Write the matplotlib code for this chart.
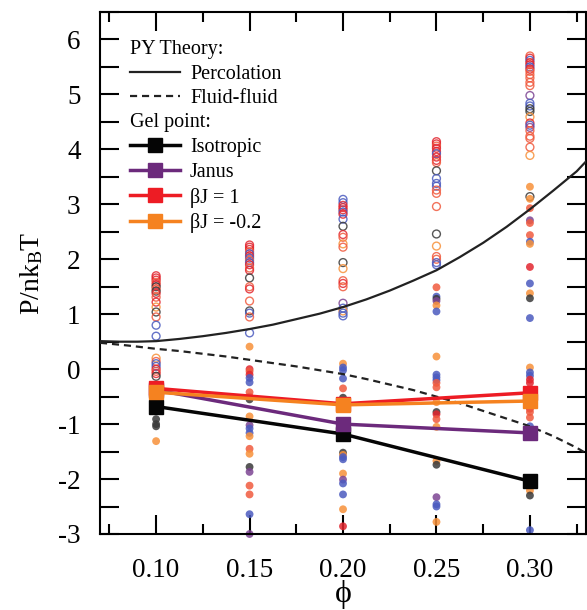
import numpy as np
import matplotlib
matplotlib.use("Agg")
import matplotlib.pyplot as plt
import matplotlib.ticker as mticker
from matplotlib.lines import Line2D

plt.rcParams['font.family'] = ['Liberation Serif', 'DejaVu Serif']
plt.rcParams['mathtext.fontset'] = 'custom'
plt.rcParams['mathtext.rm'] = 'Liberation Serif'
plt.rcParams['mathtext.it'] = 'Liberation Serif:italic'
plt.rcParams['axes.unicode_minus'] = False

# ------------------------------------------------------------
# data
# ------------------------------------------------------------
phi_py = [0.07, 0.08, 0.09, 0.10, 0.1125, 0.125, 0.1375, 0.15, 0.1625, 0.175, 0.1875,
          0.20, 0.2125, 0.225, 0.2375, 0.25, 0.2625, 0.275, 0.2875, 0.30, 0.3125, 0.325, 0.33]
percolation = [0.51, 0.50, 0.50, 0.51, 0.55, 0.60, 0.66, 0.73, 0.81, 0.91, 1.01,
               1.13, 1.27, 1.43, 1.61, 1.80, 2.04, 2.30, 2.59, 2.91, 3.25, 3.60, 3.78]

phi_ff = [0.07, 0.085, 0.10, 0.1125, 0.125, 0.1375, 0.15, 0.1625, 0.175, 0.1875, 0.20,
          0.2125, 0.225, 0.2375, 0.25, 0.2625, 0.275, 0.2875, 0.30, 0.3125, 0.325, 0.33]
fluid_fluid = [0.48, 0.43, 0.37, 0.33, 0.28, 0.23, 0.17, 0.11, 0.05, -0.02, -0.09,
               -0.18, -0.28, -0.38, -0.50, -0.62, -0.76, -0.90, -1.04, -1.22, -1.43, -1.53]

phi_gel = [0.10, 0.20, 0.30]
gel_isotropic = [-0.68, -1.18, -2.04]
gel_janus = [-0.38, -1.00, -1.16]
gel_bj1 = [-0.35, -0.63, -0.43]
gel_bjm02 = [-0.42, -0.65, -0.58]

# simulation points: (value, colour code); open = above percolation, filled = below
open_010 = [(1.70, 'R'), (1.66, 'R'), (1.62, 'R'), (1.58, 'T'), (1.54, 'R'), (1.50, 'K'),
            (1.46, 'T'), (1.42, 'K'), (1.38, 'R'), (1.31, 'T'), (1.22, 'R'), (1.13, 'O'),
            (1.04, 'K'), (0.95, 'T'), (0.80, 'B'), (0.60, 'B'),
            (0.20, 'O'), (0.14, 'T'), (0.10, 'B'), (0.05, 'B'), (0.00, 'R'), (-0.04, 'T'),
            (-0.08, 'R'), (-0.13, 'K')]
fill_010 = [(-0.76, 'O'), (-0.91, 'K'), (-1.00, 'K'), (-1.04, 'K'), (-1.31, 'O')]

open_015 = [(2.26, 'R'), (2.22, 'R'), (2.18, 'R'), (2.14, 'T'), (2.10, 'B'), (2.06, 'R'),
            (2.02, 'B'), (1.98, 'T'), (1.94, 'B'), (1.90, 'R'), (1.84, 'T'), (1.80, 'R'),
            (1.66, 'K'), (1.50, 'T'), (1.46, 'R'), (1.24, 'T'), (1.06, 'K'), (1.02, 'B'),
            (0.95, 'T'), (0.66, 'B')]
fill_015 = [(0.41, 'O'), (0.00, 'R'), (-0.04, 'T'), (-0.10, 'R'), (-0.16, 'B'), (-0.24, 'B'),
            (-0.42, 'T'), (-0.50, 'T'), (-0.55, 'K'), (-0.86, 'O'), (-1.02, 'P'), (-1.08, 'B'),
            (-1.16, 'B'), (-1.22, 'O'), (-1.45, 'T'), (-1.54, 'O'), (-1.78, 'K'), (-1.87, 'P'),
            (-2.12, 'T'), (-2.28, 'T'), (-2.64, 'B'), (-3.00, 'P')]

open_020 = [(3.09, 'B'), (3.03, 'B'), (2.98, 'R'), (2.94, 'R'), (2.90, 'R'), (2.86, 'B'),
            (2.82, 'R'), (2.73, 'B'), (2.60, 'K'), (2.45, 'R'), (2.40, 'T'), (2.28, 'O'),
            (2.22, 'T'), (1.94, 'K'), (1.83, 'O'), (1.61, 'T'), (1.56, 'R'), (1.50, 'T'),
            (1.20, 'P'), (1.11, 'B'), (1.06, 'O'), (1.02, 'B'), (0.97, 'B')]
fill_020 = [(0.10, 'O'), (0.03, 'B'), (-0.02, 'B'), (-0.17, 'B'), (-0.35, 'T'), (-0.52, 'K'),
            (-1.52, 'K'), (-1.56, 'O'), (-1.60, 'B'), (-1.64, 'B'), (-1.90, 'O'), (-2.01, 'P'),
            (-2.08, 'B'), (-2.28, 'B'), (-2.55, 'O'), (-2.86, 'R')]

open_025 = [(4.14, 'R'), (4.10, 'R'), (4.06, 'T'), (4.02, 'R'), (3.96, 'R'), (3.92, 'B'),
            (3.86, 'R'), (3.80, 'R'), (3.76, 'T'), (3.61, 'K'), (3.47, 'B'), (3.38, 'B'),
            (3.33, 'B'), (3.26, 'T'), (3.20, 'T'), (2.96, 'T'), (2.46, 'K'), (2.24, 'O'),
            (2.05, 'T'), (2.00, 'T'), (1.94, 'B'), (1.90, 'B')]
fill_025 = [(1.49, 'T'), (1.32, 'B'), (1.28, 'K'), (1.24, 'P'), (1.16, 'O'), (1.05, 'B'),
            (0.23, 'O'), (-0.10, 'B'), (-0.15, 'B'), (-0.20, 'B'), (-0.25, 'T'), (-0.33, 'T'),
            (-0.60, 'O'), (-0.78, 'K'), (-0.82, 'R'), (-0.91, 'T'), (-1.05, 'O'), (-1.67, 'O'),
            (-1.74, 'K'), (-2.33, 'P'), (-2.46, 'B'), (-2.50, 'B'), (-2.78, 'O')]

open_030 = [(5.70, 'T'), (5.66, 'R'), (5.62, 'B'), (5.58, 'R'), (5.54, 'R'), (5.50, 'B'),
            (5.46, 'R'), (5.42, 'T'), (5.36, 'T'), (5.30, 'T'), (5.22, 'T'), (5.16, 'T'),
            (4.98, 'P'), (4.84, 'B'), (4.79, 'B'), (4.74, 'K'), (4.69, 'K'), (4.59, 'O'),
            (4.48, 'R'), (4.44, 'B'), (4.40, 'P'), (4.34, 'T'), (4.24, 'T'), (4.20, 'T'),
            (4.04, 'T'), (3.89, 'O'), (3.14, 'K')]
fill_030 = [(3.32, 'O'), (3.10, 'O'), (2.93, 'T'), (2.71, 'P'), (2.66, 'T'), (2.44, 'T'),
            (2.32, 'B'), (2.28, 'O'), (1.86, 'R'), (1.56, 'B'), (1.38, 'O'), (1.29, 'K'),
            (0.93, 'B'), (0.03, 'O'), (-0.06, 'B'), (-0.12, 'B'), (-0.19, 'R'), (-0.25, 'R'),
            (-0.72, 'R'), (-0.78, 'T'), (-0.88, 'T'), (-1.04, 'B'), (-2.21, 'O'), (-2.30, 'K'),
            (-2.93, 'B')]

columns = [(0.10, open_010, fill_010), (0.15, open_015, fill_015), (0.20, open_020, fill_020),
           (0.25, open_025, fill_025), (0.30, open_030, fill_030)]

PT_COL = {'K': '#3a3a3a', 'B': '#4b5bbf', 'P': '#7d4593',
          'R': '#e2262f', 'T': '#f05a3e', 'O': '#f7913a'}

# ------------------------------------------------------------
fig = plt.figure(figsize=(5.87, 6.10), dpi=100)
ax = fig.add_axes([0.1704, 0.1246, 0.8279, 0.8557])

for phi, op, fl in columns:
    ov = [v for v, c in op]
    oc = [PT_COL[c] for v, c in op]
    fv = [v for v, c in fl]
    fc = [PT_COL[c] for v, c in fl]
    ax.scatter([phi] * len(ov), ov, s=32, facecolors='none', edgecolors=oc,
               linewidths=1.0, alpha=0.85, zorder=2, clip_on=False)
    ax.scatter([phi] * len(fv), fv, s=32, c=fc, edgecolors='none',
               alpha=0.85, zorder=2, clip_on=False)

ax.plot(phi_py, percolation, color='#222222', lw=1.6, zorder=3)
ax.plot(phi_ff, fluid_fluid, color='#222222', lw=1.6, dashes=(3.2, 2.2), zorder=3)

gel_styles = [
    (gel_isotropic, '#050505', 'Isotropic'),
    (gel_janus, '#6c2a7c', 'Janus'),
    (gel_bj1, '#ed1c24', 'βJ = 1'),
    (gel_bjm02, '#f58220', 'βJ = -0.2'),
]
gel_handles = []
for vals, col, lab in gel_styles:
    h, = ax.plot(phi_gel, vals, color=col, lw=2.5, marker='s', ms=9.5,
                 mec=col, mfc=col, zorder=4, label=lab)
    gel_handles.append(h)

ax.set_xlim(0.07, 0.33)
ax.set_ylim(-3, 6.5)

ax.xaxis.set_major_locator(mticker.MultipleLocator(0.05))
ax.xaxis.set_minor_locator(mticker.MultipleLocator(0.025))
ax.xaxis.set_major_formatter(mticker.FormatStrFormatter('%.2f'))
ax.yaxis.set_major_locator(mticker.MultipleLocator(1))
ax.yaxis.set_minor_locator(mticker.MultipleLocator(0.5))

ax.tick_params(which='both', direction='in', top=True, right=True, width=1.5)
ax.tick_params(axis='x', which='major', length=14, pad=17, labelsize=19.5)
ax.tick_params(axis='x', which='minor', length=7)
ax.tick_params(axis='y', which='both', length=14, pad=14, labelsize=19.5)
for sp in ax.spines.values():
    sp.set_linewidth(1.5)

ax.set_ylabel(r'P/nk$_\mathrm{B}$T', fontsize=20)
ax.yaxis.set_label_coords(-0.113, 0.5)
ax.set_xlabel('ϕ', fontsize=23)
ax.xaxis.set_label_coords(0.5, -0.088)

# legends
py_handles = [Line2D([], [], color='#222222', lw=1.6),
              Line2D([], [], color='#222222', lw=1.6, dashes=(3.2, 2.2))]
leg1 = ax.legend(py_handles, ['Percolation', 'Fluid-fluid'], title='PY Theory:',
                 loc='upper left', bbox_to_anchor=(0.04, 0.966), frameon=False,
                 fontsize=14.5, title_fontsize=14.5, alignment='left', borderpad=0,
                 handlelength=2.5, handletextpad=0.5, labelspacing=0.28)
ax.add_artist(leg1)
ax.legend(gel_handles, [g[2] for g in gel_styles], title='Gel point:',
          loc='upper left', bbox_to_anchor=(0.04, 0.825), frameon=False,
          fontsize=14.5, title_fontsize=14.5, alignment='left', borderpad=0,
          handlelength=2.5, handletextpad=0.5, labelspacing=0.28)

fig.savefig('out.png', dpi=100)
